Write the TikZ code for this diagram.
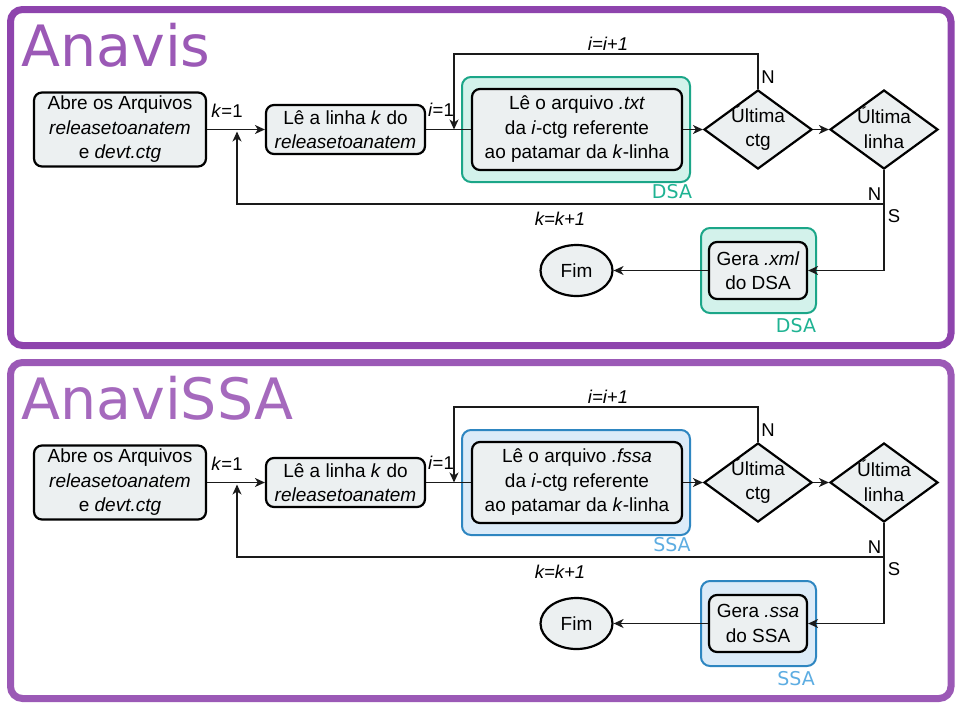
\documentclass[tikz,border=0pt]{standalone}
\usepackage{fontspec}
\setmainfont{Liberation Sans}
\newfontfamily\headfont{DejaVu Sans}
\usetikzlibrary{shapes.geometric,arrows.meta}

\definecolor{frameA}{HTML}{8E44AD}
\definecolor{frameB}{HTML}{9B59B6}
\definecolor{titleA}{HTML}{9B59B6}
\definecolor{titleB}{HTML}{A569BD}
\definecolor{boxgray}{HTML}{ECF0F1}
\definecolor{tealline}{HTML}{1BA688}
\definecolor{tealfill}{HTML}{D3F2EB}
\definecolor{tealtext}{HTML}{1FB393}
\definecolor{blueline}{HTML}{2E86C1}
\definecolor{bluefill}{HTML}{DCEBF8}
\definecolor{bluetext}{HTML}{5DADE2}
\definecolor{wire}{HTML}{1A1A1A}

\tikzset{
  x=1pt, y=-1pt,
  txt/.style={font=\fontsize{19}{24.5}\selectfont},
  proc/.style={txt, draw=black, line width=2.2pt, fill=boxgray, rounded corners=8pt,
               align=center, inner sep=0pt},
  grp/.style={line width=2pt, rounded corners=9pt, inner sep=0pt},
  dec/.style={draw=black, line width=2.2pt, fill=boxgray, diamond, inner sep=0pt,
              minimum width=108pt, minimum height=79pt},
  term/.style={txt, draw=black, line width=2.2pt, fill=boxgray, ellipse, inner sep=0pt,
               minimum width=72pt, minimum height=51pt},
  lbl/.style={font=\fontsize{18.5}{20}\selectfont, inner sep=0pt},
  tag/.style={font=\headfont\fontsize{19}{22}\selectfont, inner sep=0pt},
  frm/.style={line width=7pt, rounded corners=12pt},
  wire/.style={draw=wire, line width=1.4pt},
  arr/.style={wire, -{Stealth[length=10pt,width=9pt,inset=3pt]}},
}

% One flowchart panel; #1 is the prefix of its node names.
\newcommand\flowpanel[1]{%
\begin{scope}[shift={(0,\panDy)}]
  \draw[frm, draw=\panFrame] (10.5,9.5) rectangle (951,345.5);
  \node[anchor=base west, inner sep=0pt, text=\panTitleCol,
        font=\headfont\fontsize{57}{60}\selectfont] (#1title) at (21,66.5) {\panTitle};

  % process boxes
  \node[proc, minimum width=172pt, minimum height=74pt] (#1b1) at (120,129.5)
    {Abre os Arquivos\\\textit{releasetoanatem}\\e \textit{devt.ctg}};
  \node[proc, minimum width=159pt, minimum height=49pt] (#1b2) at (345.5,129.5)
    {Lê a linha \textit{k} do\\\textit{releasetoanatem}};
  \node[grp, draw=\panGline, fill=\panGfill, minimum width=228pt, minimum height=105pt]
    (#1g1) at (576,129.5) {};
  \node[proc, minimum width=210pt, minimum height=81pt] (#1b3) at (577,129.5)
    {Lê o arquivo \textit{.\panExt}\\da \textit{i}-ctg referente\\ao patamar da \textit{k}-linha};

  % decisions
  \node[dec] (#1d1) at (758,129.5) {};
  \node[txt, align=center, inner sep=0pt] (#1d1t) at (758,128) {Última\\ctg};
  \node[dec] (#1d2) at (884,129.5) {};
  \node[txt, align=center, inner sep=0pt] (#1d2t) at (884,128) {Última\\linha};

  % output and end
  \node[grp, draw=\panGline, fill=\panGfill, minimum width=115pt, minimum height=85pt]
    (#1g2) at (758.5,270.5) {};
  \node[proc, minimum width=98pt, minimum height=57pt] (#1b4) at (758,270.5) {\panGera};
  \node[term] (#1fim) at (576.5,270.5) {Fim};

  \node[tag, text=\panTagCol] (#1tag1) at (672,192) {\panTag};
  \node[tag, text=\panTagCol] (#1tag2) at (796,326) {\panTag};

  % connectors
  \coordinate (#1kin) at (237,131.5);
  \coordinate (#1iin) at (454,129.5);
  \coordinate (#1jn) at (884,204);
  \draw[arr] (#1b1.east) -- (#1b2.west);
  \draw[wire] (#1b2.east) -- (#1b3.west);
  \draw[arr] (#1d1.north) -- ++(0,-35) -| (#1iin);
  \draw[arr] (#1b3.east) -- (#1d1.west);
  \draw[arr] (#1d1.east) -- (#1d2.west);
  \draw[wire] (#1d2.south) -- (#1jn);
  \draw[arr] (#1jn) -| (#1kin);
  \draw[arr] (#1jn) |- (#1b4.east);
  \draw[arr] (#1b4.west) -- (#1fim.east);

  % edge labels
  \node[lbl] (#1l1) at (227,111) {\textit{k}=1};
  \node[lbl] (#1l2) at (441,109.5) {\textit{i}=1};
  \node[lbl] (#1l3) at (608,44) {\textit{i=i+1}};
  \node[lbl] (#1l4) at (768,77) {N};
  \node[lbl] (#1l5) at (874.5,194.5) {N};
  \node[lbl] (#1l6) at (894,216) {S};
  \node[lbl] (#1l7) at (560,219) {\textit{k=k+1}};
\end{scope}}

\begin{document}
\begin{tikzpicture}
  \useasboundingbox[fill=white] (0,0) rectangle (957,704);

  \def\panDy{0}\def\panFrame{frameA}\def\panTitle{Anavis}\def\panTitleCol{titleA}%
  \def\panExt{txt}\def\panGera{Gera \textit{.xml}\\do DSA}%
  \def\panGline{tealline}\def\panGfill{tealfill}\def\panTag{DSA}\def\panTagCol{tealtext}%
  \flowpanel{a}

  \def\panDy{353}\def\panFrame{frameB}\def\panTitle{AnaviSSA}\def\panTitleCol{titleB}%
  \def\panExt{fssa}\def\panGera{Gera \textit{.ssa}\\do SSA}%
  \def\panGline{blueline}\def\panGfill{bluefill}\def\panTag{SSA}\def\panTagCol{bluetext}%
  \flowpanel{b}
\end{tikzpicture}
\end{document}
